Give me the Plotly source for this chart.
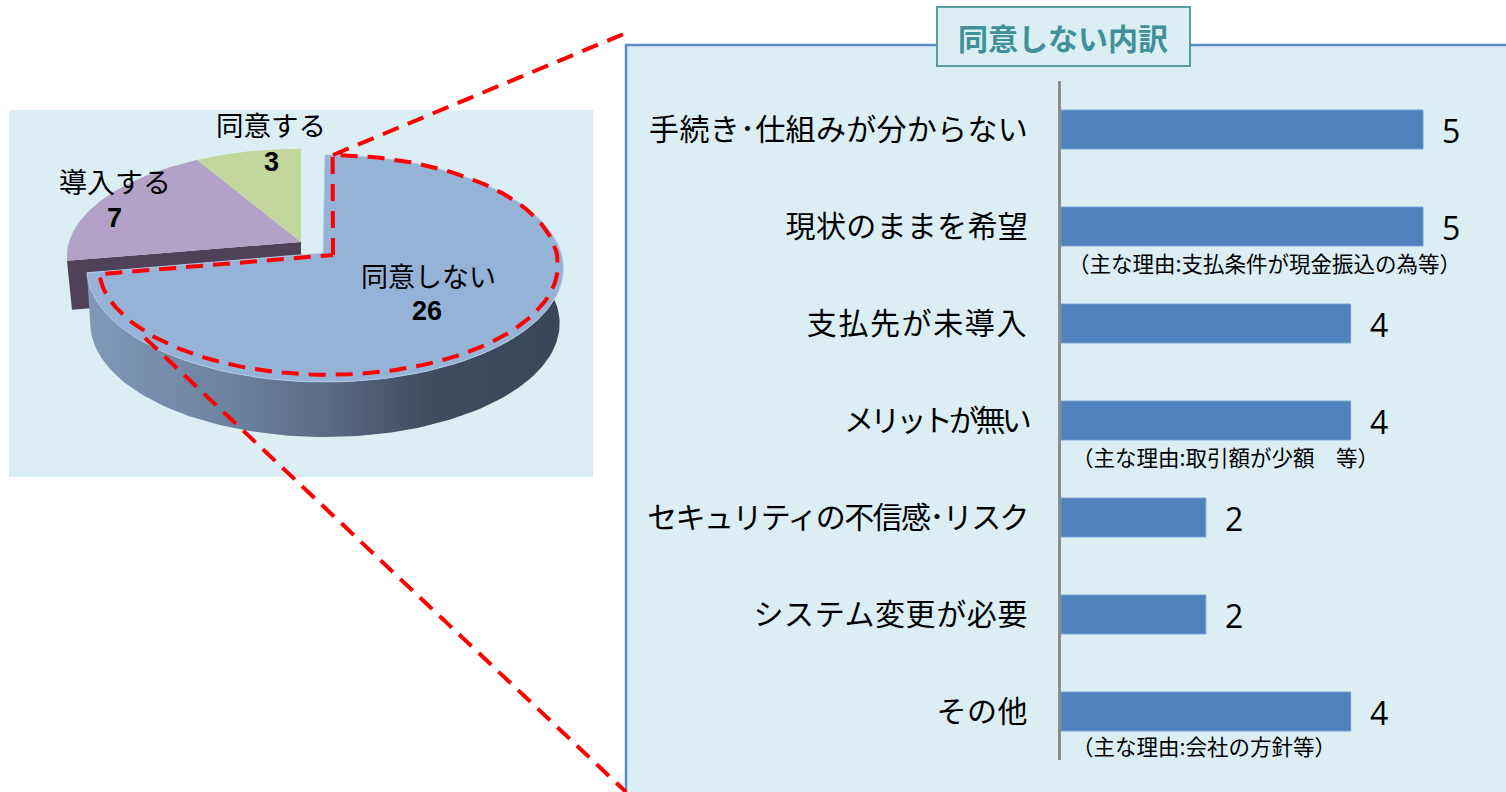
import numpy as np
import plotly.graph_objects as go

# ---- data ----
pie_labels = ["同意しない", "導入する", "同意する"]
pie_values = [26, 7, 3]
pie_colors = ["#95B3D7", "#B3A2C7", "#C3D69B"]

bar_labels = ["手続き･仕組みが分からない", "現状のままを希望", "支払先が未導入", "メリットが無い",
              "セキュリティの不信感･リスク", "システム変更が必要", "その他"]
bar_values = [5, 5, 4, 4, 2, 2, 4]
bar_notes = ["", "（主な理由:支払条件が現金振込の為等）", "", "（主な理由:取引額が少額　等）", "", "", "（主な理由:会社の方針等）"]
title_text = "同意しない内訳"

# ---- styling ----
JP = "Noto Sans CJK JP"
PANEL = "#DBEEF4"
label_spacing = [0.3, 0.3, 1.6, -3.7, -1.6, 0.6, 0.5]
note_x = [0, 1066, 0, 1070, 0, 0, 1070]
note_dy = [0, -36, 0, -36, 0, 0, -34]

# ---- projected pie geometry ----
total = sum(pie_values)
edges = np.cumsum([0] + pie_values) / total * 2 * np.pi


def rim(t0, t1, cx, cy, a=238.0, h=111.4, p=0.1365, n=120):
    t = np.linspace(t0, t1, n)
    u, v = np.sin(t), np.cos(t)
    w = 1 / (1 + p * v)
    return cx + a * u * w, cy - h * v * w


BIG_APEX = (323, 253)
BIG_RIM = dict(cx=325, cy=253, a=236)
REST = (301, 242)
REST_RIM = dict(cx=301, cy=242, a=232, h=106)
DEPTH = 55

fig = go.Figure()

# purple cut face
rx, ry = rim(edges[1], edges[1], n=1, **REST_RIM)
fig.add_trace(go.Scatter(
    x=[REST[0], rx[0], rx[0] + 5, REST[0]], y=[REST[1], ry[0], ry[0] + 49, REST[1] + 49],
    fill="toself", fillcolor="#4F4159", mode="lines", line=dict(width=0), hoverinfo="skip", showlegend=False))
# unexploded slices
for i in (1, 2):
    x, y = rim(edges[i], edges[i + 1], **REST_RIM)
    fig.add_trace(go.Scatter(
        x=np.r_[REST[0], x, REST[0]], y=np.r_[REST[1], y, REST[1]],
        fill="toself", fillcolor=pie_colors[i], mode="lines", line=dict(width=0),
        name=pie_labels[i], showlegend=False))
# wall of big slice
wx, wy = rim(edges[1], np.pi * 0.47, **BIG_RIM)
bx = BIG_RIM["cx"] + (wx - BIG_RIM["cx"]) * 0.985
fig.add_trace(go.Scatter(
    x=np.r_[wx, bx[::-1]], y=np.r_[wy, (wy + DEPTH)[::-1]],
    fill="toself", mode="lines", line=dict(width=0), hoverinfo="skip", showlegend=False,
    fillgradient=dict(type="horizontal", start=90, stop=560,
                      colorscale=[[0, "#7F99B8"], [0.3, "#6C829E"], [0.5, "#5A6C86"],
                                  [0.72, "#3F4C60"], [1, "#3A4658"]])))
# big slice
x, y = rim(edges[0], edges[1], **BIG_RIM)
fig.add_trace(go.Scatter(
    x=np.r_[BIG_APEX[0], x, BIG_APEX[0]], y=np.r_[BIG_APEX[1], y, BIG_APEX[1]],
    fill="toself", fillcolor=pie_colors[0], mode="lines", line=dict(width=1, color="#B4CAE4"),
    name=pie_labels[0], showlegend=False))
# red dashed outline of the slice
RED = dict(color="#FF0000", width=4, dash="17px,10px")
ox, oy = rim(edges[0] + 0.022, edges[1], 328, 255, a=229, h=109, p=0.09)
fig.add_trace(go.Scatter(
    x=np.r_[333, ox, 333], y=np.r_[255, oy, 255], mode="lines", line=RED, hoverinfo="skip", showlegend=False))
# leader lines
fig.add_trace(go.Scatter(x=[333, 626], y=[155, 33], mode="lines", line=RED, hoverinfo="skip", showlegend=False))
fig.add_trace(go.Scatter(x=[145, 626], y=[338, 792], mode="lines", line=RED, hoverinfo="skip", showlegend=False))

# bars
fig.add_trace(go.Bar(
    x=bar_values, y=bar_labels, orientation="h", xaxis="x2", yaxis="y2",
    marker=dict(color="#4F81BD", line=dict(width=1, color="#6A98D0")), showlegend=False))

annotations = []
# pie labels
pie_pos = [(428, 275, 311, 427), (114.5, 181, 218, 114), (271, 124, 162, 271)]
pie_size = [27, 28, 27.5]
for name, val, (px, py, vy, vx), sz in zip(pie_labels, pie_values, pie_pos, pie_size):
    annotations.append(dict(x=px, y=py, xref="x", yref="y", text=name, showarrow=False,
                            font=dict(family=JP, size=sz, color="#000000")))
    annotations.append(dict(x=vx, y=vy, xref="x", yref="y", text=f"<b>{val}</b>", showarrow=False,
                            font=dict(family="Liberation Sans", size=27, color="#000000")))
# bar values
for lab, val in zip(bar_labels, bar_values):
    annotations.append(dict(x=val, y=lab, xref="x2", yref="y2", text=str(val), showarrow=False,
                            xanchor="center", xshift=28, yshift=-1,
                            font=dict(family="Open Sans", size=32, color="#000000")))
# notes
for lab, note, dy, nx in zip(bar_labels, bar_notes, note_dy, note_x):
    if note:
        annotations.append(dict(x=nx, y=lab, xref="x", yref="y2", text=note, showarrow=False,
                                xanchor="left", yshift=dy,
                                font=dict(family=JP, size=21.5, color="#000000")))
# title
annotations.append(dict(x=1063, y=37, xref="x", yref="y", text=f"<b>{title_text}</b>", showarrow=False,
                        font=dict(family=JP, size=30, color="#3F9099")))

shapes = [
    dict(type="rect", xref="x", yref="y", x0=9, x1=593, y0=110, y1=477, layer="below",
         fillcolor=PANEL, line=dict(width=0)),
    dict(type="rect", xref="x", yref="y", x0=626, x1=1530, y0=45, y1=820, layer="below",
         fillcolor=PANEL, line=dict(width=2.5, color="#5B8AC6")),
    dict(type="rect", xref="x", yref="y", x0=937, x1=1190, y0=7, y1=66, layer="below",
         fillcolor=PANEL, line=dict(width=2, color="#5A9EA2")),
]

tick_text = [f'<span style="letter-spacing:{s}px">{t}</span>' for t, s in zip(bar_labels, label_spacing)]

fig.update_layout(
    width=1506, height=792, margin=dict(l=0, r=0, t=0, b=0),
    paper_bgcolor="#FFFFFF", plot_bgcolor="rgba(0,0,0,0)",
    showlegend=False, bargap=0.6, shapes=shapes, annotations=annotations,
    xaxis=dict(domain=[0, 1], range=[0, 1506], visible=False, fixedrange=True),
    yaxis=dict(domain=[0, 1], range=[792, 0], visible=False, fixedrange=True),
    xaxis2=dict(domain=[1061 / 1506, 1], range=[0, 445 / 72.4], visible=False, anchor="y2", fixedrange=True),
    yaxis2=dict(domain=[1 - 760 / 792, 1 - 81 / 792], anchor="x2", type="category",
                categoryorder="array", categoryarray=bar_labels, autorange="reversed",
                tickmode="array", tickvals=bar_labels, ticktext=tick_text,
                showline=True, linecolor="#8C8C8C", linewidth=3, showgrid=False, zeroline=False,
                ticks="", ticklabelstandoff=24,
                tickfont=dict(family=JP, size=30, color="#000000"), fixedrange=True),
)

fig.write_html("out.html", config={"displayModeBar": False},
               post_script="document.body.style.margin='0';document.body.style.overflow='hidden';")
